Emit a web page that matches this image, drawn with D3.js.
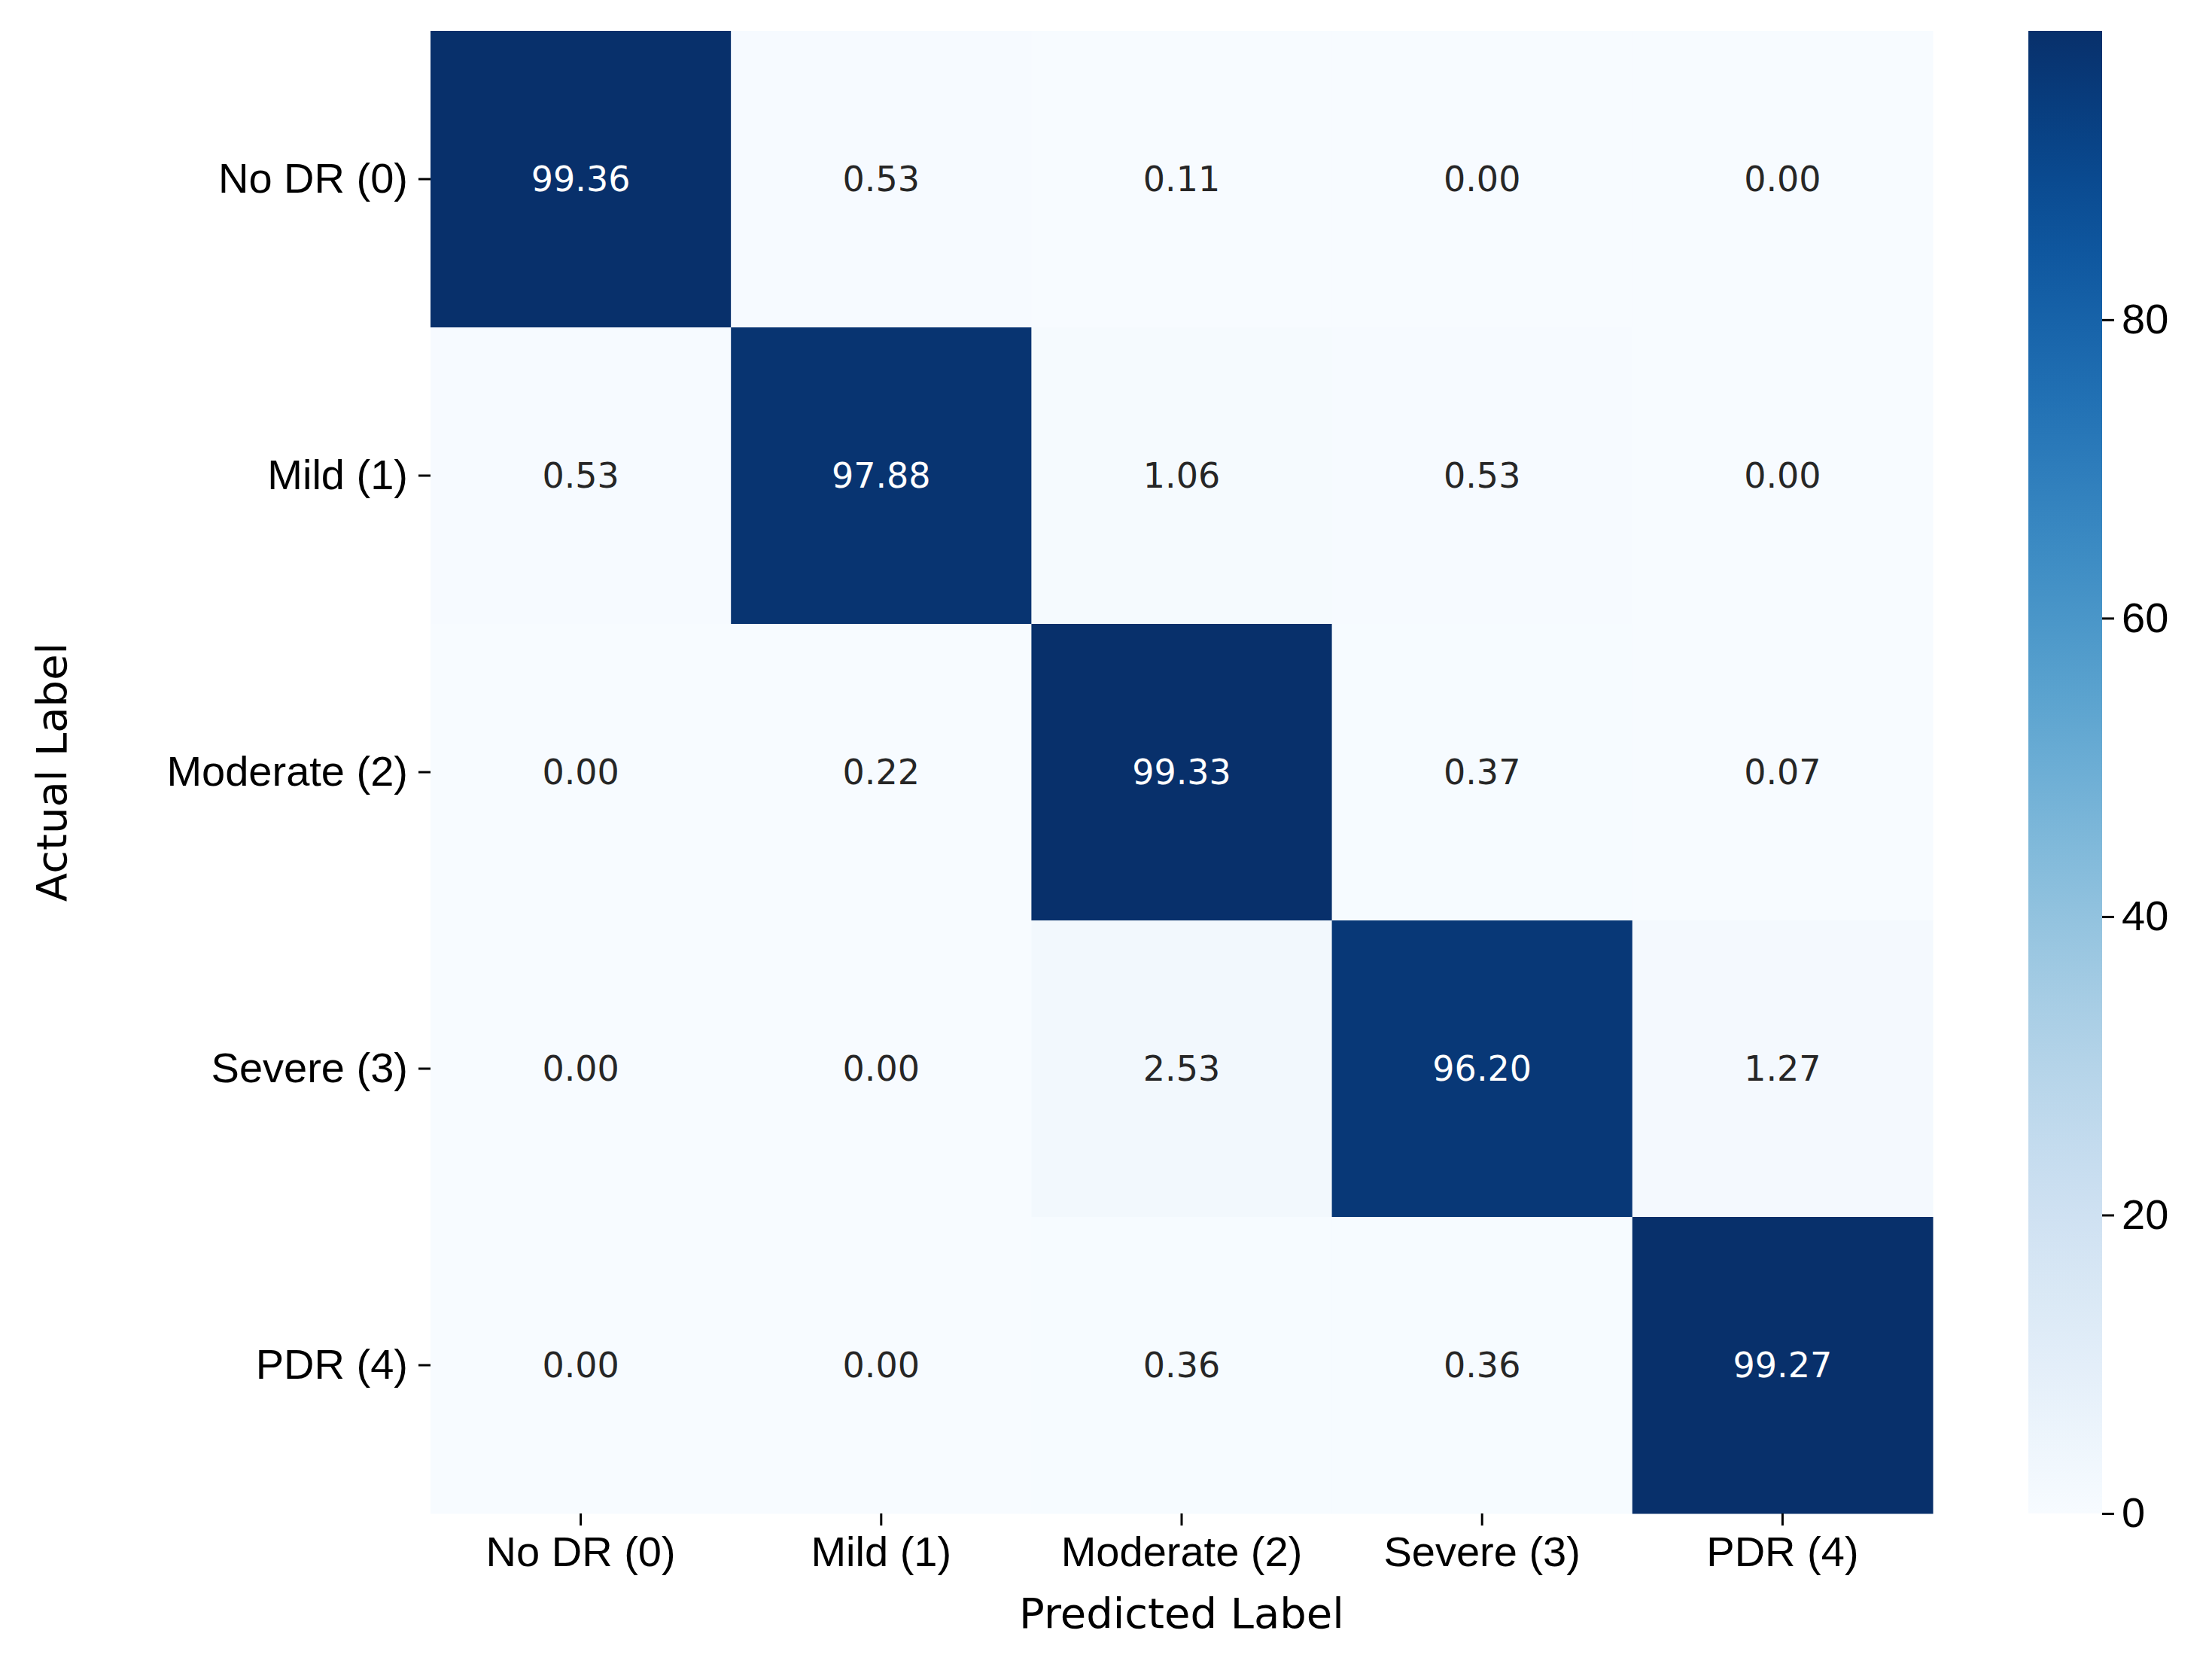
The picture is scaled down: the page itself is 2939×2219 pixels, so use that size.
<!DOCTYPE html>
<html><head><meta charset="utf-8">
<script src="https://cdn.jsdelivr.net/npm/d3@7"></script>
<style>body{margin:0;background:#fff}svg{font-family:"DejaVu Sans",sans-serif}</style>
</head><body><svg width="2939" height="2219"></svg>
<script>
const labels = ['No DR (0)', 'Mild (1)', 'Moderate (2)', 'Severe (3)', 'PDR (4)'];
const row0 = [99.36, 0.53, 0.11, 0.00, 0.00];
const row1 = [0.53, 97.88, 1.06, 0.53, 0.00];
const row2 = [0.00, 0.22, 99.33, 0.37, 0.07];
const row3 = [0.00, 0.00, 2.53, 96.20, 1.27];
const row4 = [0.00, 0.00, 0.36, 0.36, 99.27];
const rows = [row0, row1, row2, row3, row4];
const cbTicks = [0, 20, 40, 60, 80];

const svg = d3.select('svg');
const L = 572, R = 2568, T = 41, B = 2011;
const vmax = d3.max(rows.flat());
const color = d3.scaleSequential(d3.interpolateBlues).domain([0, vmax]);
const x = d3.scaleBand().domain(labels).range([L, R]);
const y = d3.scaleBand().domain(labels).range([T, B]);

const cells = rows.flatMap((r, i) => r.map((v, j) => ({row: labels[i], col: labels[j], v})));
svg.selectAll('rect.cell').data(cells).enter().append('rect')
    .attr('x', d => x(d.col)).attr('y', d => y(d.row))
    .attr('width', x.bandwidth() + 0.5).attr('height', y.bandwidth() + 0.5)
    .attr('fill', d => color(d.v));
svg.selectAll('text.ann').data(cells).enter().append('text')
    .attr('x', d => x(d.col) + x.bandwidth() / 2).attr('y', d => y(d.row) + y.bandwidth() / 2)
    .attr('text-anchor', 'middle').attr('dominant-baseline', 'central')
    .attr('font-size', 46).attr('fill', d => d.v > vmax / 2 ? '#fff' : '#262626')
    .text(d => d.v.toFixed(2));

const ax = svg.append('g').attr('transform', `translate(0,${B})`)
    .call(d3.axisBottom(x).tickSize(16).tickPadding(14));
const ay = svg.append('g').attr('transform', `translate(${L},0)`)
    .call(d3.axisLeft(y).tickSize(16).tickPadding(14));
[ax, ay].forEach(a => {
    a.select('.domain').remove();
    a.selectAll('line').attr('stroke-width', 3);
    a.selectAll('text').attr('font-size', 56).attr('fill', '#000');
});

svg.append('text').attr('x', (L + R) / 2).attr('y', 2163).attr('text-anchor', 'middle')
    .attr('font-size', 56).text('Predicted Label');
svg.append('text').attr('transform', `translate(88,${(T + B) / 2}) rotate(-90)`)
    .attr('text-anchor', 'middle').attr('font-size', 56).text('Actual Label');

// colorbar
const cx0 = 2695, cw = 98;
const cy = d3.scaleLinear().domain([0, vmax]).range([B, T]);
const defs = svg.append('defs');
const grad = defs.append('linearGradient').attr('id', 'cb').attr('x1', 0).attr('y1', 1).attr('x2', 0).attr('y2', 0);
d3.range(0, 1.01, 0.05).forEach(t => grad.append('stop').attr('offset', t).attr('stop-color', d3.interpolateBlues(t)));
svg.append('rect').attr('x', cx0).attr('y', T).attr('width', cw).attr('height', B - T).attr('fill', 'url(#cb)');
const ac = svg.append('g').attr('transform', `translate(${cx0 + cw},0)`)
    .call(d3.axisRight(cy).tickValues(cbTicks).tickSize(16).tickPadding(10));
ac.select('.domain').remove();
ac.selectAll('line').attr('stroke-width', 3);
ac.selectAll('text').attr('font-size', 56).attr('fill', '#000');
</script></body></html>
